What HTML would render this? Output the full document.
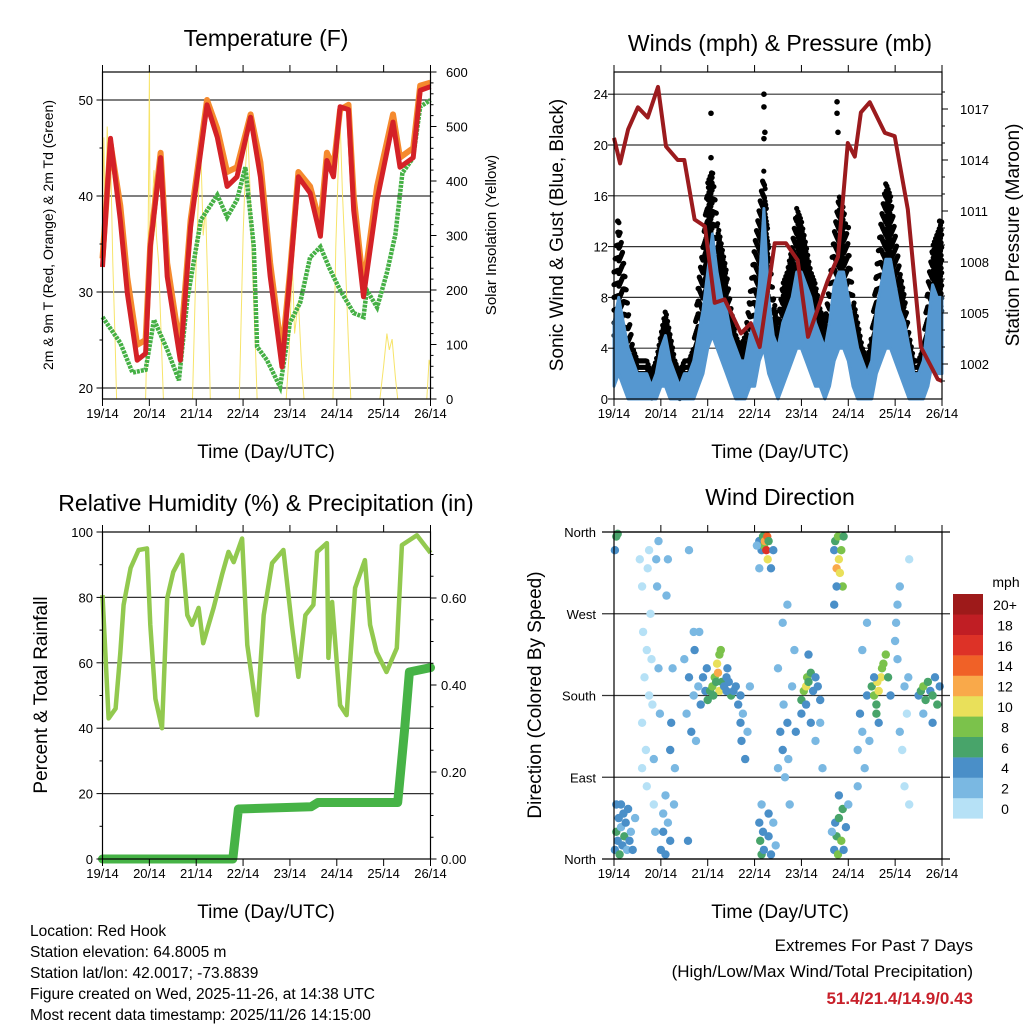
<!DOCTYPE html>
<html><head><meta charset="utf-8"><style>
html,body{margin:0;padding:0;background:#fff;}
svg{display:block;font-family:"Liberation Sans",sans-serif;}
</style></head><body>
<svg id="c" width="1024" height="1024" viewBox="0 0 1024 1024">
<g id="texts" font-family="Liberation Sans, sans-serif" fill="#000">
<text x="266" y="46" font-size="23" text-anchor="middle">Temperature (F)</text>
<text x="780" y="51" font-size="23" text-anchor="middle">Winds (mph) &amp; Pressure (mb)</text>
<text x="266" y="511" font-size="23" text-anchor="middle">Relative Humidity (%) &amp; Precipitation (in)</text>
<text x="780" y="505" font-size="23" text-anchor="middle">Wind Direction</text>
<text x="266" y="458" font-size="19" text-anchor="middle">Time (Day/UTC)</text>
<text x="780" y="458" font-size="19" text-anchor="middle">Time (Day/UTC)</text>
<text x="266" y="918" font-size="19" text-anchor="middle">Time (Day/UTC)</text>
<text x="780" y="918" font-size="19" text-anchor="middle">Time (Day/UTC)</text>
<text transform="translate(53,235) rotate(-90)" font-size="14" text-anchor="middle">2m &amp; 9m T (Red, Orange) &amp; 2m Td (Green)</text>
<text transform="translate(496,235) rotate(-90)" font-size="15" text-anchor="middle">Solar Insolation (Yellow)</text>
<text transform="translate(563,235) rotate(-90)" font-size="19" text-anchor="middle">Sonic Wind &amp; Gust (Blue, Black)</text>
<text transform="translate(1019,235) rotate(-90)" font-size="19" text-anchor="middle">Station Pressure (Maroon)</text>
<text transform="translate(47,695) rotate(-90)" font-size="19" text-anchor="middle">Percent &amp; Total Rainfall</text>
<text transform="translate(541,695) rotate(-90)" font-size="19" text-anchor="middle">Direction (Colored By Speed)</text>
<g font-size="15.5">
<text x="30" y="936">Location: Red Hook</text>
<text x="30" y="957">Station elevation: 64.8005 m</text>
<text x="30" y="978">Station lat/lon: 42.0017; -73.8839</text>
<text x="30" y="999">Figure created on Wed, 2025-11-26, at 14:38 UTC</text>
<text x="30" y="1020">Most recent data timestamp: 2025/11/26 14:15:00</text>
</g>
<g font-size="17" text-anchor="end">
<text x="973" y="951">Extremes For Past 7 Days</text>
<text x="973" y="977">(High/Low/Max Wind/Total Precipitation)</text>
<text x="973" y="1004" fill="#c8202a" font-weight="bold">51.4/21.4/14.9/0.43</text>
</g>
</g>
</svg>
<script>
// ---- data ----
const dayLabels = ["19/14","20/14","21/14","22/14","23/14","24/14","25/14","26/14"];
const tempT = [0,.17,.38,.53,.74,.92,1.02,1.24,1.38,1.66,1.88,2.23,2.45,2.66,2.87,3.16,3.37,3.58,3.83,4.0,4.18,4.43,4.65,4.79,4.93,5.07,5.25,5.36,5.57,5.86,6.2,6.35,6.63,6.78,7.0];
const tempRed = [32.6,46,37.5,29.9,22.9,23.6,34.7,44,31.6,22.9,36.8,49.5,46.1,41,42,48.2,42,31.6,22.2,31.6,42,40.3,35.8,43.7,42,49.3,49,38.5,29.5,39.6,47.7,43,44,51,51.4];
const tempOrange = [33.5,45.5,39,31.5,24.5,25,35,44.5,33,24,37.5,50,47,42.5,43,48.5,43.5,33,23.5,32,42.5,41,37,44.5,43,49,49.5,40,30.5,41,48.5,44,45,51.5,51.8];
const dewT = [0,.38,.64,.92,1.1,1.38,1.63,1.81,2.1,2.45,2.66,2.87,3.05,3.23,3.3,3.51,3.79,4.0,4.22,4.43,4.65,4.86,5.07,5.36,5.57,5.64,5.86,6.07,6.25,6.4,6.63,6.78,7.0];
const dewV = [27.4,24.7,21.6,21.9,27.1,24,20.8,29.2,37.5,40.1,37.8,39.6,43,34.7,24.3,22.9,20.1,26.8,28.9,33.6,34.7,32.3,30.2,27.8,27.4,30.2,28.4,32,36,42.4,44,49.3,50];
const solarT = [0,.03,.06,.1,.14,.18,.22,.27,.3,.92,.96,1.0,1.02,1.06,1.1,1.15,1.2,1.25,1.3,1.92,1.98,2.05,2.1,2.15,2.2,2.25,2.3,2.92,3.0,3.05,3.1,3.15,3.2,3.27,3.3,3.92,3.98,4.05,4.1,4.18,4.25,4.3,4.92,4.98,5.04,5.07,5.12,5.18,5.25,5.3,5.92,6.0,6.07,6.12,6.18,6.25,6.3,6.92,6.97,7.0];
const solarV = [350,480,300,500,380,420,250,100,0,0,150,600,200,350,420,300,250,120,0,0,200,380,450,300,350,200,0,0,300,420,493,380,250,80,0,0,80,250,120,180,60,0,0,280,450,510,380,260,100,0,0,60,120,90,110,40,0,0,72,60];
const windT = [0,.1,.2,.3,.4,.5,.6,.7,.8,.9,1.0,1.1,1.2,1.3,1.4,1.5,1.6,1.7,1.8,1.9,2.0,2.1,2.2,2.3,2.4,2.5,2.6,2.7,2.8,2.9,3.0,3.1,3.2,3.3,3.4,3.5,3.6,3.7,3.8,3.9,4.0,4.1,4.2,4.3,4.4,4.5,4.6,4.7,4.8,4.9,5.0,5.1,5.2,5.3,5.4,5.5,5.6,5.7,5.8,5.9,6.0,6.1,6.2,6.3,6.4,6.5,6.6,6.7,6.8,6.9,7.0];
const gustV = [10,14,11,7,4,3,3,3,2,3,5,7,5,3,2,3,3,4,9,12,17,18,14,12,10,7,5,4,5,8,12,15,18,12,8,6,9,10,12,15,14,12,10,9,7,6,9,13,16,15,12,8,6,4,3,5,10,14,17,16,13,10,8,5,3,3,4,9,12,13,14];
const windHi = [6,8,6,4,3,2,2,2,1,2,4,5,3,2,1,2,2,3,5,7,10,13,10,8,7,5,4,3,3,5,6,9,15,8,5,4,6,7,8,10,10,9,8,6,5,4,6,9,10,10,8,6,4,3,2,3,7,9,11,11,9,7,6,4,2,2,3,6,9,8,8];
const windLo = [1,2,1,0,0,0,0,0,0,0,1,1,0,0,0,0,0,0,1,2,4,5,4,3,2,1,0,0,0,1,1,3,4,2,1,0,1,2,3,4,4,3,2,1,1,0,1,3,4,4,3,1,0,0,0,0,2,3,4,4,3,2,1,0,0,0,0,1,3,2,2];
const extraGustT = [2.07,2.07,2.09,3.2,3.2,3.22,3.2,4.76,4.76,4.78,5.0,6.9,6.95,.08,.12];
const extraGustV = [22.5,19,17,24,23,21,20.5,23.4,22.5,21,13.5,12,14,14,12];
const presT = [0,.13,.3,.51,.72,.94,1.11,1.36,1.5,1.72,1.94,2.15,2.36,2.71,2.92,3.11,3.43,3.67,3.92,4.14,4.56,4.78,4.99,5.14,5.27,5.46,5.78,5.99,6.27,6.55,6.91,7.0];
const presV = [1015.3,1013.8,1015.8,1017.1,1016.5,1018.3,1014.8,1014,1014,1010.5,1010.1,1005.6,1005.8,1003.8,1004.4,1003,1009.1,1009.1,1008.1,1003.6,1006.9,1008.3,1015,1014.2,1016.8,1017.4,1015.6,1015.4,1011.1,1003,1001.1,1001];
const rhT = [0,.13,.28,.38,.45,.6,.77,.95,1.02,1.13,1.27,1.38,1.51,1.7,1.81,1.91,2.05,2.15,2.37,2.55,2.69,2.8,2.98,3.09,3.3,3.44,3.62,3.86,4.04,4.18,4.33,4.5,4.58,4.79,4.82,4.9,5.07,5.21,5.39,5.6,5.71,5.85,6.06,6.28,6.39,6.71,7.0];
const rhV = [80.7,43,46,63,77.7,89,94.5,95,71.6,49,40,79.8,87.8,93,74.6,71.6,76.8,66,76.8,86.9,93.9,90.8,98,65.4,44,74.6,90.5,94.5,71.6,55.7,74.6,77.7,93.9,96.6,61.5,78.6,47,44,82.9,91.4,71.6,63.3,57.2,64.5,96,99,93.6];
const rainT = [0,2.78,2.9,4.45,4.6,6.3,6.45,6.55,7.0];
const rainV = [0,0,.115,.12,.13,.13,.30,.43,.44];
const speedLabels = ["0","2","4","6","8","10","12","14","16","18","20+"];
const speedColors = ["#b6e1f6","#7ab8e2","#4a8fc8","#48a46a","#7bc24b","#e9e05a","#f9a94a","#f06127","#dd3227","#c01e24","#9e1a1a"];
const dirT = [0.02,0.05,0.08,0.1,0.12,0.15,0.18,0.2,0.22,0.25,0.28,0.3,0.33,0.36,0.4,0.45,0.05,0.15,0.05,0.02,0.08,
0.55,0.6,0.62,0.65,0.6,0.68,0.7,0.72,0.75,0.78,0.8,0.82,0.85,0.88,0.9,0.92,0.95,0.95,0.98,0.6,0.7,0.75,0.85,
1.0,1.05,1.1,1.15,1.2,1.05,1.1,1.12,1.15,1.2,1.22,1.25,1.28,1.3,
1.5,1.55,1.6,1.65,1.7,1.72,1.75,1.8,1.82,1.85,1.9,1.95,1.6,1.58,1.7,1.98,
2.0,2.05,2.1,2.15,2.2,2.22,2.25,2.28,2.3,2.35,2.4,2.42,2.45,2.5,2.55,2.12,2.18,2.25,2.4,2.6,
2.65,2.7,2.72,2.75,2.8,2.85,2.9,2.7,
3.1,3.15,3.18,3.2,3.22,3.25,3.27,3.28,3.3,3.35,3.4,3.1,3.05,
3.1,3.12,3.15,3.18,3.2,3.3,3.35,3.4,3.45,3.15,3.3,
3.5,3.55,3.6,3.62,3.65,3.7,3.72,3.75,3.8,3.85,3.88,3.6,3.7,3.5,
4.0,4.05,4.1,4.12,4.15,4.2,4.25,4.3,4.35,4.4,4.1,4.2,4.3,4.4,4.45,4.15,4.0,
4.7,4.72,4.75,4.78,4.8,4.82,4.85,4.88,4.9,4.75,4.7,
4.7,4.72,4.75,4.78,4.8,4.85,4.88,4.9,4.95,5.0,4.65,4.8,
5.2,5.25,5.3,5.35,5.4,5.45,5.3,5.4,5.2,
5.5,5.55,5.6,5.62,5.65,5.7,5.72,5.75,5.8,5.85,5.6,5.55,5.9,5.65,
6.0,6.02,6.05,6.1,6.15,6.2,6.25,6.05,6.1,6.2,6.3,6.3,6.28,
6.5,6.55,6.6,6.65,6.7,6.75,6.8,6.85,6.9,6.95,6.6,6.8];
const dirD = [10,30,20,45,5,35,15,50,25,40,10,55,20,30,10,45,60,60,355,340,358,
330,300,250,200,150,120,80,320,340,270,220,170,110,30,330,300,350,210,160,100,230,180,60,
10,30,5,40,20,50,70,290,330,120,150,210,60,100,
220,160,200,140,180,230,130,190,250,170,200,185,340,20,250,210,
175,185,190,200,215,205,185,230,195,190,200,210,195,180,185,180,195,225,185,190,
170,150,130,160,110,140,190,180,
350,340,355,345,350,340,355,330,350,320,340,320,345,
40,20,5,30,10,25,5,40,15,60,50,
100,140,120,170,90,150,110,60,190,230,140,260,280,210,
175,185,190,200,195,205,185,200,190,175,170,150,130,150,100,225,160,
340,350,320,355,330,315,340,300,355,300,280,
10,40,25,5,45,20,55,10,35,60,30,70,
120,160,140,100,180,130,230,260,80,
190,180,170,195,185,200,210,215,225,200,160,200,180,150,
240,260,220,140,120,190,160,280,300,80,60,330,200,
180,185,190,175,195,185,180,200,170,190,160,150];
const dirS = [4,6,4,4,6,2,4,4,6,4,2,4,4,2,4,2,4,4,6,4,6,
0,0,0,0,0,0,0,0,0,0,0,0,2,2,2,2,2,2,2,0,0,0,0,
4,4,4,2,4,2,2,2,2,4,4,2,2,2,
2,2,4,4,2,4,2,2,2,4,4,4,2,4,2,4,
6,6,8,8,10,12,10,8,6,4,4,4,4,6,4,6,6,8,4,4,
4,4,4,2,4,2,2,4,
4,4,6,8,12,16,14,10,6,4,4,2,2,
4,6,6,4,4,4,4,2,2,2,4,
2,4,4,2,2,4,2,2,2,2,4,2,2,2,
6,8,10,8,6,6,4,4,4,4,4,4,2,2,2,4,4,
4,6,12,8,10,10,8,8,6,4,4,
4,4,6,8,6,8,6,4,4,2,2,4,
2,4,2,2,4,2,2,2,2,
6,8,6,10,10,10,8,8,8,6,6,4,4,4,
2,2,2,2,0,2,0,2,2,0,0,0,2,
4,6,8,6,6,4,6,4,6,4,2,4];

// ---- axes ----
const NS = "http://www.w3.org/2000/svg";
const svg = document.getElementById('c');
const DAY = (430.5-102.5)/7;
const tx = t => 102.5 + t*DAY;
const wx = t => 614 + t*DAY;
const ty = v => 388 - (v-20)*9.6;
const sy = v => 399 - v*0.545;
const wy = v => 399 - v*12.7;
const py = p => 364 - (p-1002)*17;
const ry = v => 859 - v*3.27;
const ppy = v => 859 - v*435;
const dy = d => 859 - d*(327/360);

function mk(tag, attrs, parent){
  const e = document.createElementNS(NS, tag);
  for (const k in attrs) e.setAttribute(k, attrs[k]);
  (parent||svg).appendChild(e);
  return e;
}
function grp(name){
  const g = mk('g', {});
  
  
  return g;
}
function interp(T, V, t){
  for (let i=1;i<T.length;i++){ if (t<=T[i]){ const f=(t-T[i-1])/(T[i]-T[i-1]||1); return V[i-1]+f*(V[i]-V[i-1]); } }
  return V[V.length-1];
}
function pts(T, V, fx, fy){ return T.map((t,i)=>fx(t).toFixed(1)+','+fy(V[i]).toFixed(1)).join(' '); }
function txt(parent, x, y, s, size, anchor){
  const e = mk('text', {x:x, y:y, 'font-size':size, 'text-anchor':anchor||'middle'}, parent);
  e.textContent = s; return e;
}

function frame(name, x0, x1, y0, y1, fx){
  const g = grp(name + '-frame');
  mk('rect', {x:x0, y:y0, width:x1-x0, height:y1-y0, fill:'none', stroke:'#000', 'stroke-width':1.2}, g);
  for (let d=0; d<=7; d++){
    const x = fx(d);
    mk('line', {x1:x, y1:y1, x2:x, y2:y1+7, stroke:'#000', 'stroke-width':1}, g);
    mk('line', {x1:x, y1:y0, x2:x, y2:y0-7, stroke:'#000', 'stroke-width':1}, g);
    txt(g, x, y1+19, dayLabels[d], 13);
  }
  return g;
}
function hgrid(name, x0, x1, vals, fy){
  const g = grp(name);
  vals.forEach(v => mk('line', {x1:x0, y1:fy(v), x2:x1, y2:fy(v), stroke:'#333', 'stroke-width':1.2}, g));
}
function yticks(name, vals, labels, fy, x, side, labx, minor){
  const g = grp(name);
  vals.forEach((v,i)=>{
    mk('line', {x1:x, y1:fy(v), x2:x+(side*6), y2:fy(v), stroke:'#000'}, g);
    txt(g, labx, fy(v)+5, labels[i], 13, side<0?'end':'start');
  });
  (minor||[]).forEach(v => mk('line', {x1:x, y1:fy(v), x2:x+(side*3), y2:fy(v), stroke:'#000'}, g));
}

// ===== Panel 1: Temperature =====
hgrid('temp-gridlines', 102.5, 430.5, [20,30,40,50], ty);
{
  const g = grp('solar-insolation-line');
  mk('polyline', {points:pts(solarT, solarV, tx, sy), fill:'none', stroke:'#f7e46a', 'stroke-width':1}, g);
  const gd = grp('dewpoint-line');
  mk('polyline', {points:pts(dewT, dewV, tx, ty), fill:'none', stroke:'#45b045', 'stroke-width':4.5, 'stroke-dasharray':'3 1'}, gd);
  const go = grp('temp-9m-orange-line');
  mk('polyline', {points:pts(tempT, tempOrange, tx, ty), fill:'none', stroke:'#f58a2e', 'stroke-width':6, 'stroke-linejoin':'round'}, go);
  const gr = grp('temp-2m-red-line');
  mk('polyline', {points:pts(tempT, tempRed, tx, ty), fill:'none', stroke:'#d42127', 'stroke-width':5, 'stroke-linejoin':'round'}, gr);
}
frame('temp', 102.5, 430.5, 72, 399, tx);
yticks('temp-left-axis', [20,30,40,50], ['20','30','40','50'], ty, 102.5, -1, 93, [25,35,45]);
yticks('solar-right-axis', [0,100,200,300,400,500,600], ['0','100','200','300','400','500','600'], sy, 430.5, 1, 446, [20,40,60,80,120,140,160,180,220,240,260,280,320,340,360,380,420,440,460,480,520,540,560,580]);

// ===== Panel 2: Winds =====
hgrid('wind-gridlines', 614, 942, [4,8,12,16,20,24], wy);
{
  const g = grp('gust-dots');
  let k = 0;
  for (let t=0; t<=7.0001; t+=0.013){
    const up = interp(windT, gustV, t), lo = interp(windT, windHi, t) - 1.5;
    const off = (k++ % 2) * 0.5;
    for (let v=up-off; v>=Math.max(lo,0); v-=1.0){
      mk('circle', {cx:wx(t).toFixed(1), cy:wy(v).toFixed(1), r:2.6, fill:'#000'}, g);
    }
  }
  extraGustT.forEach((t,i)=>{
    const c = mk('circle', {cx:wx(t), cy:wy(extraGustV[i]), r:2.8, fill:'#000'}, g);
    
    
  });
  const gb = grp('sonic-wind-band');
  const top = windT.map((t,i)=>wx(t).toFixed(1)+','+wy(windHi[i]).toFixed(1));
  const bot = windT.map((t,i)=>wx(t).toFixed(1)+','+wy(windLo[i]).toFixed(1)).reverse();
  mk('polygon', {points:top.concat(bot).join(' '), fill:'#5597d0', stroke:'#5597d0', 'stroke-width':3, 'stroke-linejoin':'round'}, gb);
  const gp = grp('pressure-line');
  mk('polyline', {points:pts(presT, presV, wx, py), fill:'none', stroke:'#9b1b1e', 'stroke-width':4, 'stroke-linejoin':'round'}, gp);
}
frame('wind', 614, 942, 72, 399, wx);
yticks('wind-left-axis', [0,4,8,12,16,20,24], ['0','4','8','12','16','20','24'], wy, 614, -1, 608);
yticks('pressure-right-axis', [1002,1005,1008,1011,1014,1017], ['1002','1005','1008','1011','1014','1017'], py, 942, 1, 960, [1001,1003,1004,1006,1007,1009,1010,1012,1013,1015,1016,1018]);

// ===== Panel 3: RH & precip =====
hgrid('rh-gridlines', 102.5, 430.5, [20,40,60,80], ry);
{
  const g = grp('humidity-line');
  mk('polyline', {points:pts(rhT, rhV, tx, ry), fill:'none', stroke:'#92c94f', 'stroke-width':4.5, 'stroke-linejoin':'round'}, g);
  const gp = grp('rainfall-line');
  mk('polyline', {points:pts(rainT, rainV, tx, ppy), fill:'none', stroke:'#46b346', 'stroke-width':9, 'stroke-linejoin':'round', 'stroke-linecap':'round'}, gp);
}
frame('rh', 102.5, 430.5, 532, 859, tx);
yticks('rh-left-axis', [0,20,40,60,80,100], ['0','20','40','60','80','100'], ry, 102.5, -1, 93, [10,30,50,70,90]);
yticks('rain-right-axis', [0,0.2,0.4,0.6], ['0.00','0.20','0.40','0.60'], ppy, 430.5, 1, 441, [0.05,0.1,0.15,0.25,0.3,0.35,0.45,0.5,0.55,0.65,0.7]);

// ===== Panel 4: Wind direction =====
hgrid('dir-gridlines', 602, 950, [90,180,270], dy);
{
  const g = grp('direction-points');
  dirT.forEach((t,i)=>{
    const k = Math.min(10, Math.floor(dirS[i]/2));
    const c = mk('circle', {cx:wx(t).toFixed(1), cy:dy(dirD[i]).toFixed(1), r:4.2, fill:speedColors[k]}, g);
    
    
  });
}
{
  const g = frame('dir', 614, 942, 532, 859, wx);
  mk('line', {x1:602, y1:532, x2:950, y2:532, stroke:'#000', 'stroke-width':1.2}, g);
  mk('line', {x1:602, y1:859, x2:950, y2:859, stroke:'#000', 'stroke-width':1.2}, g);
  const ga = grp('dir-left-axis');
  const dl = ['North','East','South','West','North'];
  [0,90,180,270,360].forEach((d,i)=>txt(ga, 596, dy(d)+5, dl[i], 13, 'end'));
  const gl = grp('speed-legend');
  txt(gl, 1006, 587, 'mph', 14);
  for (let i=0;i<11;i++){
    const y = 594 + (10-i)*20.4;
    const r = mk('rect', {x:953, y:y, width:30, height:20.6, fill:speedColors[i]}, gl);
    
    
    txt(gl, 1005, y+16, speedLabels[i], 14);
  }
}
svg.appendChild(document.getElementById('texts'));
</script>
</body></html>
